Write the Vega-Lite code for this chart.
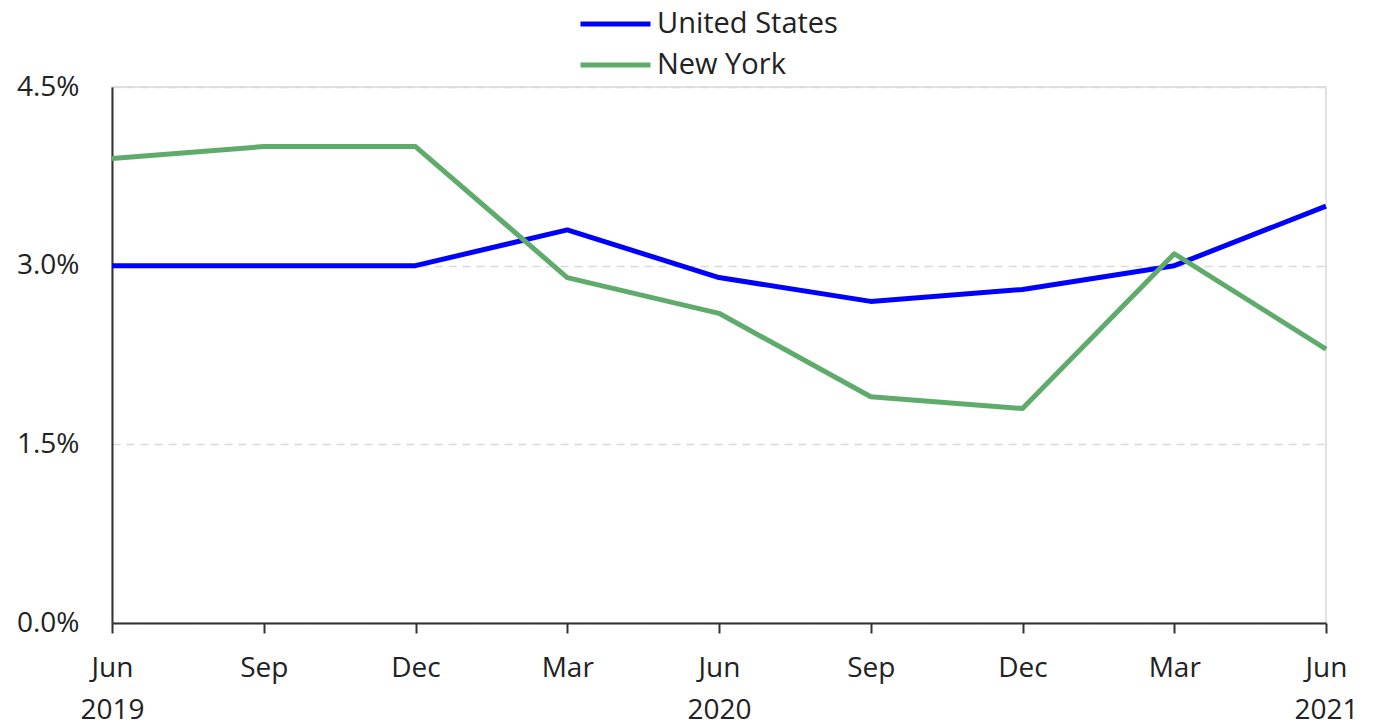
{
  "$schema": "https://vega.github.io/schema/vega-lite/v6.json",
  "width": 1214,
  "height": 536,
  "autosize": {"type": "none"},
  "padding": {"left": 112, "top": 87, "right": 54, "bottom": 104},
  "background": "white",
  "config": {
    "font": "Open Sans",
    "view": {"stroke": "#d9d9d9", "strokeWidth": 1.5}
  },
  "data": {
    "values": [
      {"period": "Jun 2019", "series": "United States", "rate": 3.0},
      {"period": "Sep 2019", "series": "United States", "rate": 3.0},
      {"period": "Dec 2019", "series": "United States", "rate": 3.0},
      {"period": "Mar 2020", "series": "United States", "rate": 3.3},
      {"period": "Jun 2020", "series": "United States", "rate": 2.9},
      {"period": "Sep 2020", "series": "United States", "rate": 2.7},
      {"period": "Dec 2020", "series": "United States", "rate": 2.8},
      {"period": "Mar 2021", "series": "United States", "rate": 3.0},
      {"period": "Jun 2021", "series": "United States", "rate": 3.5},
      {"period": "Jun 2019", "series": "New York", "rate": 3.9},
      {"period": "Sep 2019", "series": "New York", "rate": 4.0},
      {"period": "Dec 2019", "series": "New York", "rate": 4.0},
      {"period": "Mar 2020", "series": "New York", "rate": 2.9},
      {"period": "Jun 2020", "series": "New York", "rate": 2.6},
      {"period": "Sep 2020", "series": "New York", "rate": 1.9},
      {"period": "Dec 2020", "series": "New York", "rate": 1.8},
      {"period": "Mar 2021", "series": "New York", "rate": 3.1},
      {"period": "Jun 2021", "series": "New York", "rate": 2.3}
    ]
  },
  "mark": {"type": "line", "strokeWidth": 5, "strokeJoin": "round"},
  "encoding": {
    "x": {
      "field": "period",
      "type": "ordinal",
      "sort": null,
      "scale": {"type": "point", "padding": 0},
      "axis": {
        "title": null,
        "labelAngle": 0,
        "domainColor": "#333333",
        "domainWidth": 2,
        "tickColor": "#333333",
        "tickWidth": 2,
        "tickSize": 10,
        "labelPadding": 21,
        "labelFontSize": 28,
        "labelColor": "#222222",
        "labelLineHeight": 42,
        "labelExpr": "slice(datum.value,0,3)=='Jun' ? split(datum.value,' ') : slice(datum.value,0,3)"
      }
    },
    "y": {
      "field": "rate",
      "type": "quantitative",
      "scale": {"domain": [0, 4.5], "nice": false},
      "axis": {
        "title": null,
        "values": [0, 1.5, 3.0, 4.5],
        "labelExpr": "format(datum.value,'.1f') + '%'",
        "ticks": false,
        "labelPadding": 33,
        "labelFontSize": 28,
        "labelColor": "#222222",
        "domainColor": "#333333",
        "domainWidth": 2,
        "gridColor": "#d9d9d9",
        "gridDash": [8, 6],
        "gridWidth": 1.5
      }
    },
    "color": {
      "field": "series",
      "type": "nominal",
      "sort": ["United States", "New York"],
      "scale": {"domain": ["United States", "New York"], "range": ["#0000ff", "#5fab6b"]},
      "legend": {
        "title": null,
        "orient": "none",
        "legendX": 466,
        "legendY": -81,
        "direction": "vertical",
        "symbolType": "stroke",
        "symbolSize": 4900,
        "symbolStrokeWidth": 5,
        "clipHeight": 36,
        "rowPadding": 5,
        "labelOffset": 4,
        "labelFontSize": 29,
        "labelColor": "#222222",
        "labelLimit": 400
      }
    }
  }
}
